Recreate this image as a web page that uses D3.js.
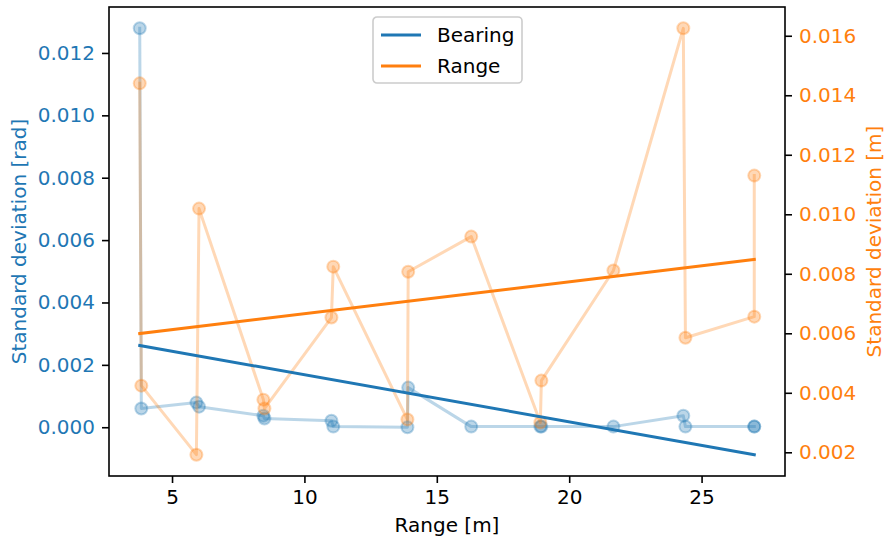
<!DOCTYPE html>
<html>
<head>
<meta charset="utf-8">
<script src="https://cdn.jsdelivr.net/npm/d3@7"></script>
<style>
  html, body { margin: 0; padding: 0; background: #fff; }
  svg { display: block; font-family: "DejaVu Sans", sans-serif; }
</style>
</head>
<body>
<svg id="chart" width="886" height="543"></svg>
<script>
// ---- data ----
const rangeX = [3.78, 3.84, 5.92, 6.02, 8.45, 8.49, 11.02, 11.09, 13.89, 13.92,
                16.30, 18.91, 18.95, 21.67, 24.31, 24.39, 26.99, 26.99];
const bearingStd = [0.01279, 0.00060, 0.00079, 0.00066, 0.00037, 0.00028, 0.00021, 0.00002, 0.00000, 0.00127,
                    0.00002, 0.00002, 0.00002, 0.00002, 0.00037, 0.00002, 0.00002, 0.00002];
const rangeStd = [0.01440, 0.00424, 0.00192, 0.01019, 0.00377, 0.00347, 0.00653, 0.00824, 0.00310, 0.00807,
                  0.00925, 0.00300, 0.00441, 0.00811, 0.01625, 0.00585, 0.00656, 0.01130];
const fitX = [3.78, 26.99];
const bearingFit = [0.00262, -0.00088];
const rangeFit = [0.00599, 0.00848];
const xTicks = [5, 10, 15, 20, 25];
const leftTicks = [0.000, 0.002, 0.004, 0.006, 0.008, 0.010, 0.012];
const rightTicks = [0.002, 0.004, 0.006, 0.008, 0.010, 0.012, 0.014, 0.016];
const seriesNames = ["Bearing", "Range"];
const xLabel = "Range [m]";
const leftLabel = "Standard deviation [rad]";
const rightLabel = "Standard deviation [m]";

// ---- layout ----
const W = 886, H = 543;
const m = {left: 109, right: 101, top: 7, bottom: 67};
const pw = W - m.left - m.right, ph = H - m.top - m.bottom;
const blue = "#1f77b4", orange = "#ff7f0e";
const FS = 20;

function padded(vals) {
  const lo = d3.min(vals), hi = d3.max(vals), p = (hi - lo) * 0.05;
  return [lo - p, hi + p];
}
const x = d3.scaleLinear().domain(padded(rangeX.concat(fitX))).range([m.left, m.left + pw]);
const yL = d3.scaleLinear().domain(padded(bearingStd.concat(bearingFit))).range([m.top + ph, m.top]);
const yR = d3.scaleLinear().domain(padded(rangeStd.concat(rangeFit))).range([m.top + ph, m.top]);

const svg = d3.select("#chart");
svg.append("rect").attr("width", W).attr("height", H).attr("fill", "#fff");

const plot = svg.append("g");

function drawSeries(vals, y, color) {
  const pts = rangeX.map((d, i) => [x(d), y(vals[i])]);
  plot.append("path")
    .attr("d", d3.line()(pts))
    .attr("fill", "none").attr("stroke", color).attr("stroke-width", 3)
    .attr("stroke-opacity", 0.3).attr("stroke-linejoin", "round").attr("stroke-linecap", "square");
  plot.selectAll(null).data(pts).enter().append("circle")
    .attr("cx", d => d[0]).attr("cy", d => d[1]).attr("r", 6)
    .attr("fill", color).attr("fill-opacity", 0.3)
    .attr("stroke", color).attr("stroke-opacity", 0.3).attr("stroke-width", 2);
}
drawSeries(bearingStd, yL, blue);
drawSeries(rangeStd, yR, orange);

function drawFit(vals, y, color) {
  plot.append("path")
    .attr("d", d3.line()(fitX.map((d, i) => [x(d), y(vals[i])])))
    .attr("fill", "none").attr("stroke", color).attr("stroke-width", 3).attr("stroke-linecap", "square");
}
drawFit(bearingFit, yL, blue);
drawFit(rangeFit, yR, orange);

// ---- axes ----
const fmt = d3.format(".3f");
const gx = svg.append("g").attr("transform", `translate(0,${m.top + ph})`)
  .call(d3.axisBottom(x).tickValues(xTicks).tickSize(7).tickPadding(7).tickFormat(d3.format("d")));
const gl = svg.append("g").attr("transform", `translate(${m.left},0)`)
  .call(d3.axisLeft(yL).tickValues(leftTicks).tickSize(7).tickPadding(7).tickFormat(fmt));
const gr = svg.append("g").attr("transform", `translate(${m.left + pw},0)`)
  .call(d3.axisRight(yR).tickValues(rightTicks).tickSize(7).tickPadding(7).tickFormat(fmt));
[gx, gl, gr].forEach(g => {
  g.select(".domain").remove();
  g.selectAll(".tick line").attr("stroke", "#000").attr("stroke-width", 1.6);
  g.selectAll(".tick text").attr("font-size", FS).attr("font-family", "DejaVu Sans");
});
gx.selectAll(".tick text").attr("fill", "#000");
gl.selectAll(".tick text").attr("fill", blue);
gr.selectAll(".tick text").attr("fill", orange);

// frame
svg.append("rect").attr("x", m.left).attr("y", m.top).attr("width", pw).attr("height", ph)
  .attr("fill", "none").attr("stroke", "#000").attr("stroke-width", 1.6);

// axis labels
svg.append("text").attr("x", m.left + pw / 2).attr("y", 532).attr("text-anchor", "middle")
  .attr("font-size", FS).attr("fill", "#000").text(xLabel);
svg.append("text").attr("transform", `translate(26,${m.top + ph / 2}) rotate(-90)`)
  .attr("text-anchor", "middle").attr("font-size", FS).attr("fill", blue).text(leftLabel);
svg.append("text").attr("transform", `translate(881,${m.top + ph / 2}) rotate(-90)`)
  .attr("text-anchor", "middle").attr("font-size", FS).attr("fill", orange).text(rightLabel);

// legend
const lg = svg.append("g").attr("transform", "translate(373,17)");
lg.append("rect").attr("width", 149).attr("height", 66).attr("rx", 4)
  .attr("fill", "#fff").attr("fill-opacity", 0.8).attr("stroke", "#ccc").attr("stroke-width", 1.6);
[blue, orange].forEach((c, i) => {
  const yy = 18 + i * 31;
  lg.append("line").attr("x1", 8).attr("x2", 48).attr("y1", yy).attr("y2", yy)
    .attr("stroke", c).attr("stroke-width", 3);
  lg.append("text").attr("x", 64).attr("y", yy + 7).attr("font-size", FS).attr("fill", "#000")
    .text(seriesNames[i]);
});
</script>
</body>
</html>
